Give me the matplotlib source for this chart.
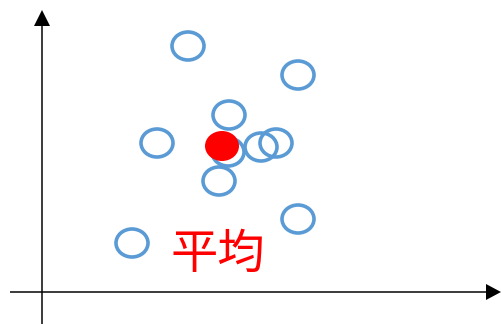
import matplotlib
matplotlib.use('Agg')
from matplotlib import pyplot as plt
from matplotlib.patches import Ellipse

# sample points (x, y in picture units, y grows downward)
xs = [188, 298, 229, 157, 228, 261, 276, 219, 298, 132]
ys = [46, 75, 115, 143, 152, 147, 143, 181, 219, 243]
mean_x, mean_y = 222, 146
label = '平均'

BLUE = '#5B9BD5'
W, H = 32, 28

fig = plt.figure(figsize=(5.01, 3.24), dpi=100)
ax = fig.add_axes([0, 0, 1, 1])
ax.set_xlim(0, 501)
ax.set_ylim(324, 0)
ax.axis('off')

# axes with arrow heads
ax.arrow(42, 324, 0, -314, width=1.5, head_width=16, head_length=16,
         length_includes_head=True, color='black', lw=0)
ax.arrow(10, 292, 491, 0, width=1.5, head_width=16, head_length=15,
         length_includes_head=True, color='black', lw=0)

for x, y in zip(xs, ys):
    ax.add_patch(Ellipse((x, y), W, H, fill=False, ec=BLUE, lw=2.6))

ax.add_patch(Ellipse((mean_x, mean_y), 34, 30, fc='red', ec='none', zorder=3))

ax.text(218, 255, label, ha='center', va='center', fontsize=34, color='red',
        family=['Noto Sans CJK JP', 'DejaVu Sans'])

fig.savefig('out.png', dpi=100)
